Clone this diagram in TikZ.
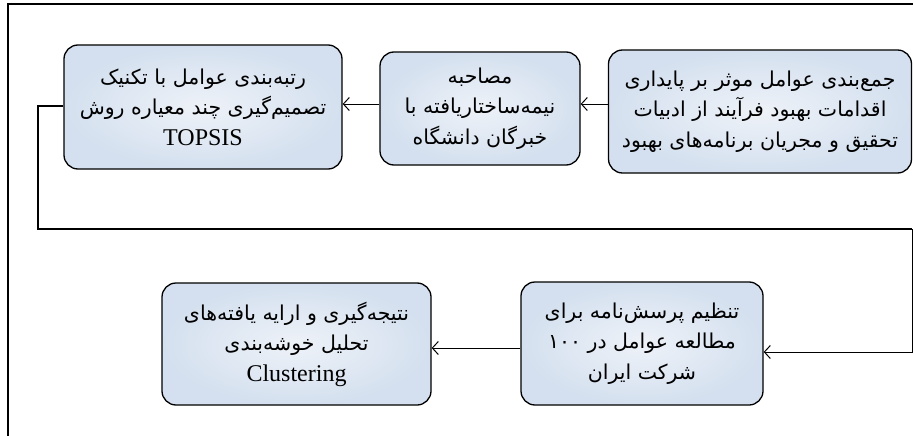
\documentclass[tikz,border=0pt]{standalone}
\usepackage{fontspec}
\setmainfont{Liberation Serif}
\newfontfamily\fafont[Script=Arabic]{DejaVu Sans}
\TeXXeTstate=1
\usetikzlibrary{arrows.meta}
\newcommand{\rlline}[1]{\beginR #1\endR}
\tikzset{
  stepbox/.style={draw=black, line width=1.3pt, rounded corners=14pt,
    inner color={rgb,255:red,238;green,242;blue,248},
    outer color={rgb,255:red,212;green,224;blue,239},
    align=center, inner sep=0pt,
    font=\fafont\fontsize{20.5}{30.5}\selectfont},
  arr/.style={line width=1pt, -{Straight Barb[length=6pt,width=13pt]}},
  longline/.style={line width=1.5pt},
  framerule/.style={line width=1.5pt}
}
\newcommand{\latintext}[1]{{\rmfamily\fontsize{24}{30.5}\selectfont #1}}
\begin{document}
\begin{tikzpicture}[x=1pt,y=-1pt]
\useasboundingbox (0,0) rectangle (913,436);
\draw[framerule] (8,436) -- (8,4) -- (913,4);

\node[stepbox, minimum width=303pt, minimum height=123pt] (b1) at (760,111.5)
  {\rlline{جمع‌بندی عوامل موثر بر پایداری}\\
   \rlline{اقدامات بهبود فرآیند از ادبیات}\\
   \rlline{تحقیق و مجریان برنامه‌های بهبود}};
\node[stepbox, minimum width=200pt, minimum height=113pt] (b2) at (480,108.5)
  {\rlline{مصاحبه}\\
   \rlline{نیمه‌ساختاریافته با}\\
   \rlline{خبرگان دانشگاه}};
\node[stepbox, minimum width=278pt, minimum height=124pt] (b3) at (203,107)
  {\rlline{رتبه‌بندی عوامل با تکنیک}\\
   \rlline{تصمیم‌گیری چند معیاره روش}\\
   \latintext{TOPSIS}};
\node[stepbox, minimum width=242pt, minimum height=123pt] (b4) at (642,343.5)
  {\rlline{تنظیم پرسش‌نامه برای}\\
   \rlline{مطالعه عوامل در ۱۰۰}\\
   \rlline{شرکت ایران}};
\node[stepbox, minimum width=269pt, minimum height=122pt] (b5) at (296.5,344)
  {\rlline{نتیجه‌گیری و ارایه یافته‌های}\\
   \rlline{تحلیل خوشه‌بندی}\\
   \latintext{Clustering}};

\coordinate (c1) at (38,229);
\coordinate (c2) at (912,229);

\draw[arr] ([yshift=7.5pt]b1.west) -- ([yshift=7.5pt]b1.west -| b2.east);
\draw[arr] ([yshift=4.5pt]b2.west) -- ([yshift=4.5pt]b2.west -| b3.east);
\draw[longline] ([yshift=1pt]b3.west) -| (c1) -- (c2);
\draw[arr] (c2) |- ([yshift=-8.5pt]b4.east);
\draw[arr] ([yshift=-4.5pt]b4.west) -- ([yshift=-4.5pt]b4.west -| b5.east);
\end{tikzpicture}
\end{document}
